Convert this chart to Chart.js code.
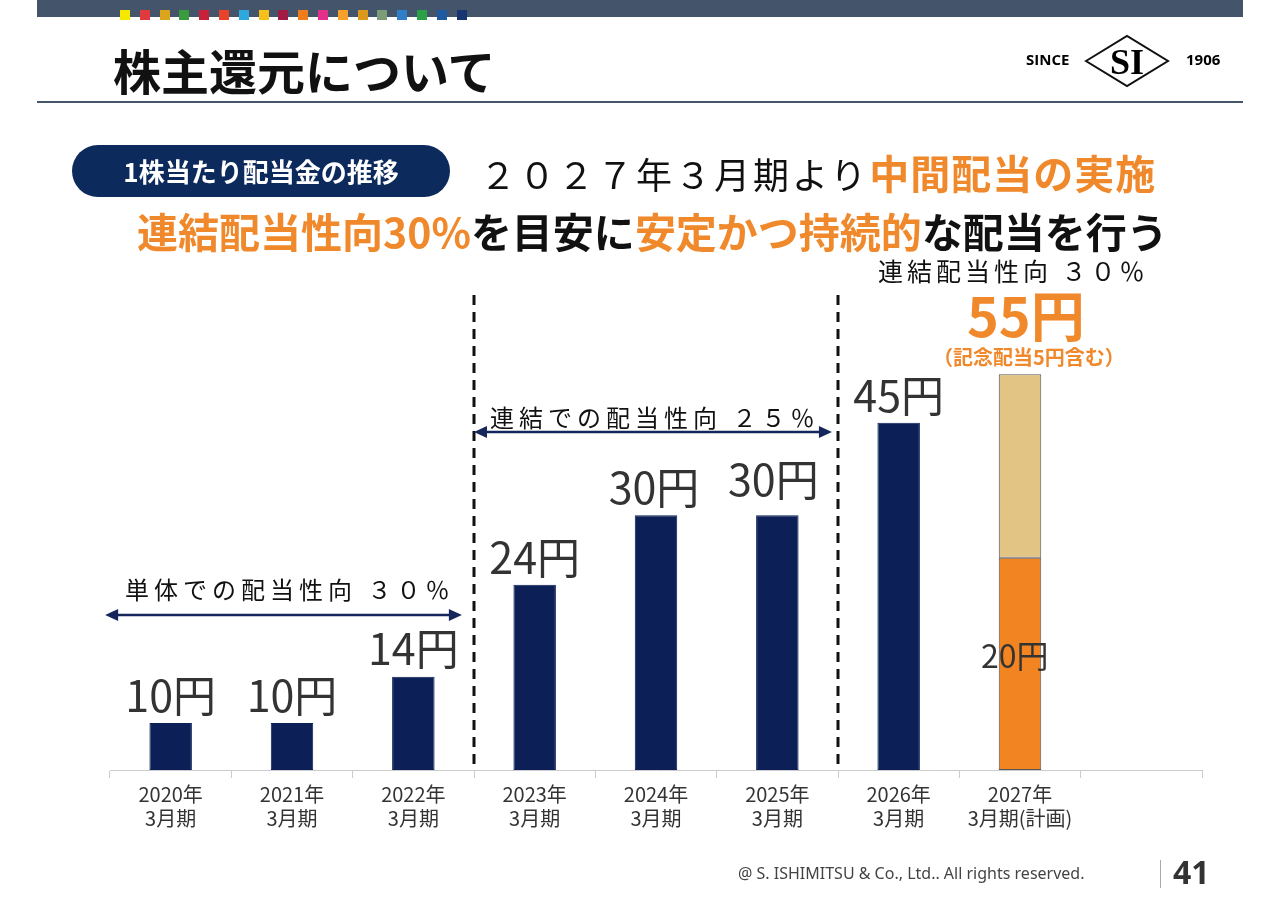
<!DOCTYPE html>
<html><head><meta charset="utf-8">
<script src="https://cdn.jsdelivr.net/npm/chart.js@4"></script>
<style>
body{margin:0;width:1280px;height:904px;position:relative;background:#fff;font-family:"Noto Sans CJK JP",sans-serif;overflow:hidden}
.a{position:absolute;white-space:nowrap;line-height:1}
#c{position:absolute;left:0;top:0}
.org{color:#f0892b;font-weight:bold}
</style></head><body>
<canvas id="c" width="1280" height="904"></canvas>
<div class="a" style="left:37px;top:0;width:1206px;height:17px;background:#44546a"></div>
<div id="sq" class="a" style="left:120px;top:5px"></div>
<div class="a" style="left:113px;top:45px;font-size:48px;font-weight:bold;color:#111">株主還元について</div>
<div class="a" style="left:37px;top:101px;width:1206px;height:2px;background:#44546a"></div>
<div class="a" style="left:1026px;top:52px;font-size:15px;font-weight:bold;font-family:'Open Sans'">SINCE</div>
<div class="a" style="left:1186px;top:52px;font-size:15px;font-weight:bold;font-family:'Open Sans'">1906</div>
<svg class="a" style="left:1083px;top:34px" width="88" height="54"><polygon points="3,27 44,2 85,27 44,52" fill="none" stroke="#111" stroke-width="2"/><text x="44" y="40" text-anchor="middle" font-family="Liberation Serif" font-weight="bold" font-size="36">SI</text></svg>
<div class="a" style="left:72px;top:145px;width:378px;height:52px;border-radius:26px;background:#0d2a5c;color:#fff;font-size:26px;font-weight:bold;text-align:center;line-height:52px">1株当たり配当金の推移</div>
<div class="a" style="left:480px;top:152px;font-size:36px;color:#111;letter-spacing:3px">２０２７年３月期より<span class="org" style="font-size:40px;letter-spacing:1px">中間配当の実施</span></div>
<div class="a" style="left:137px;top:210px;font-size:41px;font-weight:bold;color:#111"><span class="org">連結配当性向30%</span>を目安に<span class="org">安定かつ持続的</span>な配当を行う</div>
<div class="a" style="left:878px;top:258px;font-size:25px;color:#111;letter-spacing:4px">連結配当性向 ３０％</div>
<div class="a org" style="left:967px;top:287px;font-size:54px">55円</div>
<div class="a org" style="left:933px;top:347px;font-size:20px">（記念配当5円含む）</div>
<div class="a" style="left:125px;top:577px;font-size:24px;color:#111;letter-spacing:5px">単体での配当性向 ３０％</div>
<div class="a" style="left:490px;top:405px;font-size:24px;color:#111;letter-spacing:5px">連結での配当性向 ２５％</div>
<div class="a" style="left:981px;top:638px;font-size:32px;color:#333">20円</div>
<div class="a" style="left:738px;top:865px;font-size:16px;color:#444;font-family:'Noto Sans'">@ S. ISHIMITSU &amp; Co., Ltd.. All rights reserved.</div>
<div class="a" style="left:1160px;top:860px;width:1px;height:28px;background:#aaa"></div>
<div class="a" style="left:1173px;top:856px;font-size:32px;font-weight:bold;color:#333;font-family:'Noto Sans'">41</div>
<script>
const categories = [['2020年','3月期'],['2021年','3月期'],['2022年','3月期'],['2023年','3月期'],['2024年','3月期'],['2025年','3月期'],['2026年','3月期'],['2027年','3月期(計画)'],''];
// bar heights as drawn in the picture (not proportional to labels)
const baseHeights = [6.1, 6.1, 12.1, 24, 33, 33, 45, 27.5, null];
const topHeights = [null, null, null, null, null, null, null, 23.8, null];
const valueLabels = ['10円','10円','14円','24円','30円','30円','45円','',''];
const labelShift = [0, 0, 0, 0, -2, -4, 0, 0, 0];
const stripColors = ['#f5e900','#e03a3e','#dca51c','#3a9a3e','#c8223a','#e8432a','#2fa8df','#f6bf19','#a11c43','#ef7d1a','#e3308b','#f7a12c','#dc9a1c','#7c9d75','#2e7fc7','#2aa146','#1d5aa1','#173570'];

document.getElementById('sq').innerHTML = stripColors.map(c => `<span style="display:inline-block;width:10px;height:10px;background:${c};margin-right:9.8px"></span>`).join('');

const deco = {
    id: 'deco',
    afterDatasetsDraw(chart) {
        const ctx = chart.ctx, x = chart.scales.x, y = chart.scales.y;
        ctx.save();
        ctx.strokeStyle = '#111'; ctx.lineWidth = 3; ctx.setLineDash([10, 7]);
        [2.5, 5.5].forEach(v => {
            const px = x.getPixelForValue(v);
            ctx.beginPath(); ctx.moveTo(px, 295); ctx.lineTo(px, y.bottom); ctx.stroke();
        });
        ctx.setLineDash([]);
        ctx.strokeStyle = '#16265c'; ctx.fillStyle = '#16265c'; ctx.lineWidth = 2.5;
        const arrow = (x1, x2, yy) => {
            ctx.beginPath(); ctx.moveTo(x1 + 6, yy); ctx.lineTo(x2 - 6, yy); ctx.stroke();
            [[x1, 1], [x2, -1]].forEach(([px, d]) => {
                ctx.beginPath(); ctx.moveTo(px, yy); ctx.lineTo(px + 13 * d, yy - 6); ctx.lineTo(px + 13 * d, yy + 6); ctx.fill();
            });
        };
        arrow(x.getPixelForValue(-0.54), x.getPixelForValue(2.4), 615);
        arrow(x.getPixelForValue(2.5), x.getPixelForValue(5.45), 432);
        ctx.font = '43px "Noto Sans CJK JP"'; ctx.fillStyle = '#333'; ctx.textAlign = 'center'; ctx.textBaseline = 'bottom';
        const meta = chart.getDatasetMeta(0);
        valueLabels.forEach((t, i) => {
            if (!t) return;
            const el = meta.data[i];
            ctx.fillText(t, el.x + labelShift[i], el.y - (i === 5 ? 14 : 6));
        });
        ctx.restore();
    }
};

new Chart(document.getElementById('c'), {
    type: 'bar',
    data: {
        labels: categories,
        datasets: [
            { data: baseHeights, backgroundColor: ['#0c1f56','#0c1f56','#0c1f56','#0c1f56','#0c1f56','#0c1f56','#0c1f56','#f28522'],
              borderColor: ['#0c1f56','#0c1f56','#0c1f56','#0c1f56','#0c1f56','#0c1f56','#0c1f56','#555'], borderWidth: 1, borderSkipped: false },
            { data: topHeights, backgroundColor: '#e2c584', borderColor: '#555', borderWidth: 1, borderSkipped: false }
        ]
    },
    options: {
        responsive: false, animation: false,
        layout: { padding: { left: 110, right: 78, top: 307, bottom: 70 } },
        plugins: { legend: { display: false }, tooltip: { enabled: false } },
        datasets: { bar: { barPercentage: 0.35, categoryPercentage: 1 } },
        scales: {
            x: { stacked: true, grid: { offset: true, drawOnChartArea: false, tickLength: 8, color: '#ccc' }, border: { color: '#ccc' },
                 ticks: { color: '#333', font: { size: 20, family: 'Noto Sans CJK JP' }, padding: 4 } },
            y: { stacked: true, display: false, min: 0, max: 60 }
        }
    },
    plugins: [deco]
});
</script>
</body></html>
